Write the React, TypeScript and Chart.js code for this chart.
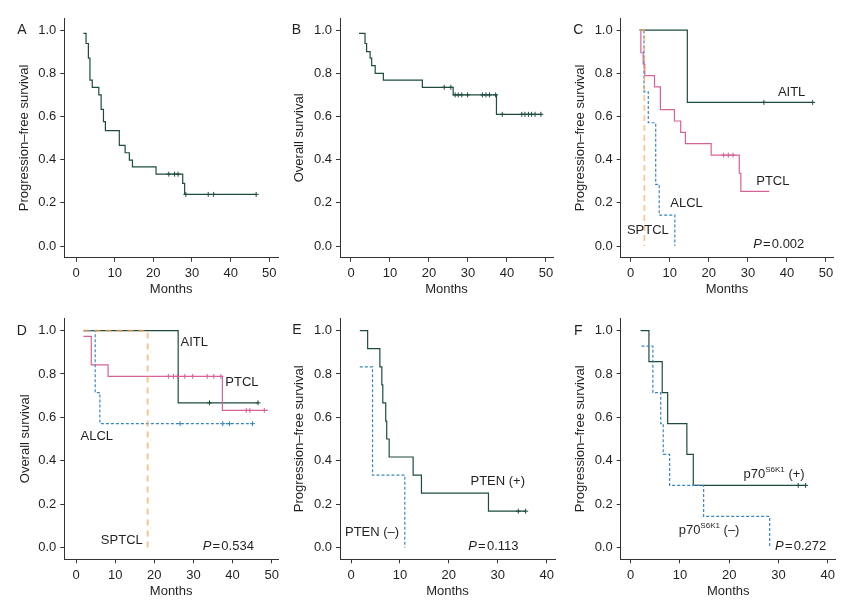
import React, { useEffect, useRef } from 'react';
import { Chart, registerables } from 'chart.js';

Chart.register(...registerables);

// ---------------- DATA ----------------
const monthTicks50 = [0, 10, 20, 30, 40, 50];
const monthTicks40 = [0, 10, 20, 30, 40];
const survivalTicks = [0, 0.2, 0.4, 0.6, 0.8, 1.0];

// A: PFS, all patients
const pfsAllT = [1.9, 2.6, 3.2, 3.6, 4.2, 5.9, 6.5, 7.1, 7.6, 11.2, 12.7, 13.8, 14.6, 20.7, 27.6, 28.1, 46.6];
const pfsAllS = [0.985, 0.938, 0.87, 0.768, 0.735, 0.70, 0.633, 0.576, 0.534, 0.466, 0.432, 0.398, 0.367, 0.333, 0.29, 0.239, 0.239];
const pfsAllCensT = [24.0, 25.5, 26.4, 28.4, 34.2, 35.6, 46.6];
const pfsAllCensS = [0.333, 0.333, 0.333, 0.239, 0.239, 0.239, 0.239];

// B: OS, all patients
const osAllT = [2.05, 3.6, 4.0, 4.9, 5.3, 6.2, 8.3, 18.3, 26.2, 37.3, 48.9];
const osAllS = [0.985, 0.938, 0.90, 0.87, 0.835, 0.80, 0.768, 0.735, 0.70, 0.61, 0.61];
const osAllCensT = [23.9, 25.6, 26.7, 27.5, 28.4, 29.9, 33.7, 34.6, 35.5, 37.1, 38.8, 43.8, 44.6, 45.5, 46.3, 47.2, 48.7];
const osAllCensS = [0.735, 0.735, 0.70, 0.70, 0.70, 0.70, 0.70, 0.70, 0.70, 0.70, 0.61, 0.61, 0.61, 0.61, 0.61, 0.61, 0.61];

// C: PFS by subtype
const pfsAitlT = [2.4, 14.5, 46.6];
const pfsAitlS = [1.0, 0.665, 0.665];
const pfsAitlCensT = [34.1, 46.6];
const pfsAitlCensS = [0.665, 0.665];
const pfsPtclT = [2.3, 2.6, 3.2, 3.6, 6.1, 7.6, 11.2, 12.8, 14.0, 20.6, 27.8, 28.2, 35.5];
const pfsPtclS = [1.0, 0.895, 0.842, 0.789, 0.737, 0.632, 0.579, 0.526, 0.474, 0.421, 0.337, 0.253, 0.253];
const pfsPtclCensT = [23.8, 25.0, 26.2];
const pfsPtclCensS = [0.421, 0.421, 0.421];
const pfsAlclT = [2.2, 3.4, 4.5, 6.4, 7.3, 11.3];
const pfsAlclS = [1.0, 0.714, 0.571, 0.286, 0.143, 0.0];
const pfsSptclT = [2.2, 3.5];
const pfsSptclS = [1.0, 0.0];

// D: OS by subtype
const osAitlT = [1.9, 26.1, 46.5];
const osAitlS = [1.0, 0.667, 0.667];
const osAitlCensT = [34.1, 46.5];
const osAitlCensS = [0.667, 0.667];
const osPtclT = [1.9, 3.9, 8.2, 37.4, 49.0];
const osPtclS = [0.974, 0.842, 0.789, 0.632, 0.632];
const osPtclCensT = [23.6, 24.9, 25.9, 27.8, 29.8, 33.5, 35.2, 37.0, 43.5, 44.4, 48.1];
const osPtclCensS = [0.789, 0.789, 0.789, 0.789, 0.789, 0.789, 0.789, 0.789, 0.632, 0.632, 0.632];
const osAlclT = [2.0, 4.9, 6.1, 45.1];
const osAlclS = [1.0, 0.714, 0.571, 0.571];
const osAlclCensT = [26.6, 37.5, 39.2, 45.1];
const osAlclCensS = [0.571, 0.571, 0.571, 0.571];
const osSptclT = [1.9, 18.3];
const osSptclS = [1.0, 0.0];

// E: PFS by PTEN
const ptenPosT = [1.8, 3.4, 5.9, 6.3, 6.5, 7.1, 7.3, 7.8, 12.7, 14.4, 28.1, 35.7];
const ptenPosS = [1.0, 0.917, 0.833, 0.75, 0.667, 0.583, 0.5, 0.417, 0.333, 0.25, 0.167, 0.167];
const ptenPosCensT = [34.2, 35.7];
const ptenPosCensS = [0.167, 0.167];
const ptenNegT = [1.8, 4.4, 11.0];
const ptenNegS = [0.833, 0.333, 0.0];

// F: PFS by p70S6K1
const p70PosT = [2.0, 3.7, 6.4, 7.5, 11.4, 12.7, 35.5];
const p70PosS = [1.0, 0.857, 0.714, 0.571, 0.429, 0.286, 0.286];
const p70PosCensT = [34.0, 35.5];
const p70PosCensS = [0.286, 0.286];
const p70NegT = [2.2, 4.5, 6.1, 6.6, 7.9, 14.8, 28.2];
const p70NegS = [0.929, 0.714, 0.571, 0.429, 0.286, 0.143, 0.0];

// ---------------- STYLE ----------------
const FONT = '"Liberation Sans", Arial, Helvetica, sans-serif';
const TEXT = '#231f20';
const AXIS = '#333333';
const GREEN = '#1d4b40';
const PINK = '#d6629a';
const BLUE = '#3a86c0';
const ORANGE = 'rgba(243, 170, 95, 0.7)';

type Curve = {
  t: number[]; s: number[]; ct?: number[]; cs?: number[];
  color: string; dash?: number[]; width?: number;
};
type Label = { kind: 'plain' | 'p' | 'sup'; text: string; sup?: string; tail?: string; x: number; y: number };
type Panel = {
  key: string; left: number; top: number; width: number; height: number;
  area: { l: number; r: number; t: number; b: number };
  xMin: number; xMax: number; yMin: number; yMax: number; xTicks: number[];
  yTitle: string; yTitleX: number; xTitleOff: number;
  letter: string; letterX: number; letterY: number;
  curves: Curve[]; labels: Label[];
};

const pfsTitle = 'Progression\u2013free survival';
const osTitle = 'Overall survival';

const panels: Panel[] = [
  {
    key: 'A', left: 0, top: 0, width: 285, height: 300,
    area: { l: 64.3, r: 278, t: 18, b: 257.7 },
    xMin: -3.03, xMax: 52.25, yMin: -0.054, yMax: 1.056, xTicks: monthTicks50,
    yTitle: pfsTitle, yTitleX: 24, xTitleOff: 11,
    letter: 'A', letterX: 17.3, letterY: 30,
    curves: [{ t: pfsAllT, s: pfsAllS, ct: pfsAllCensT, cs: pfsAllCensS, color: GREEN }],
    labels: [],
  },
  {
    key: 'B', left: 285, top: 0, width: 285, height: 300,
    area: { l: 55, r: 268, t: 18, b: 257.7 },
    xMin: -2.82, xMax: 51.8, yMin: -0.054, yMax: 1.056, xTicks: monthTicks50,
    yTitle: osTitle, yTitleX: 14, xTitleOff: 11,
    letter: 'B', letterX: 6.7, letterY: 30,
    curves: [{ t: osAllT, s: osAllS, ct: osAllCensT, cs: osAllCensS, color: GREEN }],
    labels: [],
  },
  {
    key: 'C', left: 570, top: 0, width: 294, height: 300,
    area: { l: 50.7, r: 263.3, t: 18, b: 257.7 },
    xMin: -2.56, xMax: 51.87, yMin: -0.054, yMax: 1.056, xTicks: monthTicks50,
    yTitle: pfsTitle, yTitleX: 10, xTitleOff: 11,
    letter: 'C', letterX: 3.3, letterY: 30,
    curves: [
      { t: pfsSptclT, s: pfsSptclS, color: ORANGE, dash: [6, 4], width: 1.6 },
      { t: pfsAlclT, s: pfsAlclS, color: BLUE, dash: [3, 2] },
      { t: pfsPtclT, s: pfsPtclS, ct: pfsPtclCensT, cs: pfsPtclCensS, color: PINK },
      { t: pfsAitlT, s: pfsAitlS, ct: pfsAitlCensT, cs: pfsAitlCensS, color: GREEN },
    ],
    labels: [
      { kind: 'plain', text: 'AITL', x: 41.2, y: 0.713 },
      { kind: 'plain', text: 'PTCL', x: 36.4, y: 0.30 },
      { kind: 'plain', text: 'ALCL', x: 14.3, y: 0.199 },
      { kind: 'plain', text: 'SPTCL', x: 4.4, y: 0.074 },
      { kind: 'p', text: '0.002', x: 37.9, y: 0.009 },
    ],
  },
  {
    key: 'D', left: 0, top: 300, width: 285, height: 309,
    area: { l: 64.3, r: 278, t: 18.3, b: 259.3 },
    xMin: -2.99, xMax: 51.6, yMin: -0.055, yMax: 1.057, xTicks: monthTicks50,
    yTitle: osTitle, yTitleX: 25, xTitleOff: 17.3,
    letter: 'D', letterX: 16.7, letterY: 30.7,
    curves: [
      { t: osSptclT, s: osSptclS, color: ORANGE, dash: [6, 5], width: 2 },
      { t: osAlclT, s: osAlclS, ct: osAlclCensT, cs: osAlclCensS, color: BLUE, dash: [3, 2] },
      { t: osPtclT, s: osPtclS, ct: osPtclCensT, cs: osPtclCensS, color: PINK },
      { t: osAitlT, s: osAitlS, ct: osAitlCensT, cs: osAitlCensS, color: GREEN },
    ],
    labels: [
      { kind: 'plain', text: 'AITL', x: 30.2, y: 0.945 },
      { kind: 'plain', text: 'PTCL', x: 42.4, y: 0.759 },
      { kind: 'plain', text: 'ALCL', x: 5.3, y: 0.51 },
      { kind: 'plain', text: 'SPTCL', x: 11.7, y: 0.03 },
      { kind: 'p', text: '0.534', x: 38.9, y: 0.003 },
    ],
  },
  {
    key: 'E', left: 285, top: 300, width: 285, height: 309,
    area: { l: 55, r: 270, t: 18.3, b: 259.3 },
    xMin: -2.25, xMax: 41.7, yMin: -0.055, yMax: 1.057, xTicks: monthTicks40,
    yTitle: pfsTitle, yTitleX: 14, xTitleOff: 17.3,
    letter: 'E', letterX: 7.3, letterY: 30.3,
    curves: [
      { t: ptenNegT, s: ptenNegS, color: BLUE, dash: [3, 2] },
      { t: ptenPosT, s: ptenPosS, ct: ptenPosCensT, cs: ptenPosCensS, color: GREEN },
    ],
    labels: [
      { kind: 'plain', text: 'PTEN (+)', x: 30.0, y: 0.305 },
      { kind: 'plain', text: 'PTEN (\u2013)', x: 4.3, y: 0.07 },
      { kind: 'p', text: '0.113', x: 29.1, y: 0.003 },
    ],
  },
  {
    key: 'F', left: 570, top: 300, width: 294, height: 309,
    area: { l: 50.7, r: 265.7, t: 18.3, b: 259.3 },
    xMin: -2.03, xMax: 41.6, yMin: -0.055, yMax: 1.057, xTicks: monthTicks40,
    yTitle: pfsTitle, yTitleX: 10, xTitleOff: 17.3,
    letter: 'F', letterX: 4, letterY: 30.7,
    curves: [
      { t: p70NegT, s: p70NegS, color: BLUE, dash: [3, 2] },
      { t: p70PosT, s: p70PosS, ct: p70PosCensT, cs: p70PosCensS, color: GREEN },
    ],
    labels: [
      { kind: 'sup', text: 'p70', sup: 'S6K1', tail: ' (+)', x: 29.1, y: 0.338 },
      { kind: 'sup', text: 'p70', sup: 'S6K1', tail: ' (\u2013)', x: 15.9, y: 0.08 },
      { kind: 'p', text: '0.272', x: 34.5, y: 0.003 },
    ],
  },
];

function buildDatasets(p: Panel) {
  const ds: any[] = [];
  p.curves.forEach((c) => {
    ds.push({
      type: 'line',
      data: c.t.map((t, i) => ({ x: t, y: c.s[i] })),
      stepped: 'before',
      borderColor: c.color,
      borderWidth: c.width ?? 1.2,
      borderDash: c.dash ?? [],
      pointRadius: 0,
      pointHoverRadius: 0,
      fill: false,
      tension: 0,
    });
    if (c.ct && c.cs) {
      ds.push({
        type: 'line',
        data: c.ct.map((t, i) => ({ x: t, y: c.cs![i] })),
        showLine: false,
        pointStyle: 'cross',
        pointRadius: 2.5,
        pointHoverRadius: 2.5,
        pointBorderColor: c.color,
        pointBackgroundColor: c.color,
        pointBorderWidth: 1,
        borderColor: c.color,
      });
    }
  });
  return ds;
}

function makeOverlay(p: Panel) {
  return {
    id: 'kmOverlay' + p.key,
    afterDatasetsDraw(chart: any) {
      const ctx: CanvasRenderingContext2D = chart.ctx;
      const xs = chart.scales.x;
      const ys = chart.scales.y;
      ctx.save();
      ctx.fillStyle = TEXT;
      ctx.textBaseline = 'middle';
      ctx.textAlign = 'left';
      ctx.font = `14px ${FONT}`;
      ctx.fillText(p.letter, p.letterX, p.letterY);
      const norm = `13px ${FONT}`;
      p.labels.forEach((lab) => {
        const cx = xs.getPixelForValue(lab.x);
        const cy = ys.getPixelForValue(lab.y);
        if (lab.kind === 'plain') {
          ctx.font = norm;
          ctx.textAlign = 'center';
          ctx.fillText(lab.text, cx, cy);
        } else if (lab.kind === 'p') {
          ctx.textAlign = 'left';
          const gap = 1.2;
          ctx.font = `italic 13px ${FONT}`;
          const wP = ctx.measureText('P').width;
          ctx.font = norm;
          const wEq = ctx.measureText('=').width;
          const wV = ctx.measureText(lab.text).width;
          const total = wP + gap + wEq + gap + wV;
          let x = cx - total / 2;
          ctx.font = `italic 13px ${FONT}`;
          ctx.fillText('P', x, cy);
          x += wP + gap;
          ctx.font = norm;
          ctx.fillText('=', x, cy);
          x += wEq + gap;
          ctx.fillText(lab.text, x, cy);
        } else {
          ctx.textAlign = 'left';
          ctx.font = norm;
          const w1 = ctx.measureText(lab.text).width;
          const w3 = ctx.measureText(lab.tail || '').width;
          ctx.font = `8px ${FONT}`;
          const w2 = ctx.measureText(lab.sup || '').width;
          let x = cx - (w1 + w2 + w3) / 2;
          ctx.font = norm;
          ctx.fillText(lab.text, x, cy);
          x += w1;
          ctx.font = `8px ${FONT}`;
          ctx.fillText(lab.sup || '', x, cy - 4.5);
          x += w2;
          ctx.font = norm;
          ctx.fillText(lab.tail || '', x, cy);
        }
      });
      ctx.restore();
    },
  };
}

function buildConfig(p: Panel): any {
  const lh = 13 * 1.2;
  return {
    type: 'line',
    data: { datasets: buildDatasets(p) },
    options: {
      animation: false,
      responsive: false,
      maintainAspectRatio: false,
      devicePixelRatio: 1,
      events: [],
      layout: { padding: { left: 0, top: p.area.t, right: p.width - p.area.r, bottom: 0 } },
      plugins: {
        legend: { display: false },
        tooltip: { enabled: false },
        title: { display: false },
      },
      scales: {
        x: {
          type: 'linear',
          min: p.xMin,
          max: p.xMax,
          afterBuildTicks: (s: any) => { s.ticks = p.xTicks.map((v) => ({ value: v })); },
          afterFit: (s: any) => { s.height = p.height - p.area.b; s.paddingLeft = 0; s.paddingRight = 0; },
          grid: { display: true, drawOnChartArea: false, drawTicks: true, tickLength: 4, color: AXIS, lineWidth: 1 },
          border: { display: true, color: AXIS, width: 1 },
          ticks: {
            color: TEXT, font: { family: FONT, size: 13 }, padding: 4,
            maxRotation: 0, autoSkip: false, callback: (v: any) => String(v),
          },
          title: {
            display: true, text: 'Months', color: TEXT,
            font: { family: FONT, size: 13 },
            padding: { top: 0, bottom: p.xTitleOff - lh / 2 },
          },
        },
        y: {
          type: 'linear',
          min: p.yMin,
          max: p.yMax,
          afterBuildTicks: (s: any) => { s.ticks = survivalTicks.map((v) => ({ value: v })); },
          afterFit: (s: any) => { s.width = p.area.l; s.paddingTop = 0; s.paddingBottom = 0; },
          grid: { display: true, drawOnChartArea: false, drawTicks: true, tickLength: 4, color: AXIS, lineWidth: 1 },
          border: { display: true, color: AXIS, width: 1 },
          ticks: {
            color: TEXT, font: { family: FONT, size: 13 }, padding: 4,
            autoSkip: false, callback: (v: any) => Number(v).toFixed(1),
          },
          title: {
            display: true, text: p.yTitle, color: TEXT,
            font: { family: FONT, size: 13 },
            padding: { top: p.yTitleX - lh / 2, bottom: 0 },
          },
        },
      },
    },
    plugins: [makeOverlay(p)],
  };
}

function KMPanel({ panel }: { panel: Panel }) {
  const ref = useRef<HTMLCanvasElement>(null);
  useEffect(() => {
    if (!ref.current) return;
    const chart = new Chart(ref.current, buildConfig(panel));
    return () => chart.destroy();
  }, [panel]);
  return (
    <canvas
      ref={ref}
      width={panel.width}
      height={panel.height}
      style={{ position: 'absolute', left: panel.left, top: panel.top, width: panel.width, height: panel.height, display: 'block' }}
    />
  );
}

export default function App() {
  return (
    <div style={{ position: 'absolute', left: 0, top: 0, width: 864, height: 609, background: '#ffffff', overflow: 'hidden' }}>
      {panels.map((p) => <KMPanel key={p.key} panel={p} />)}
    </div>
  );
}
